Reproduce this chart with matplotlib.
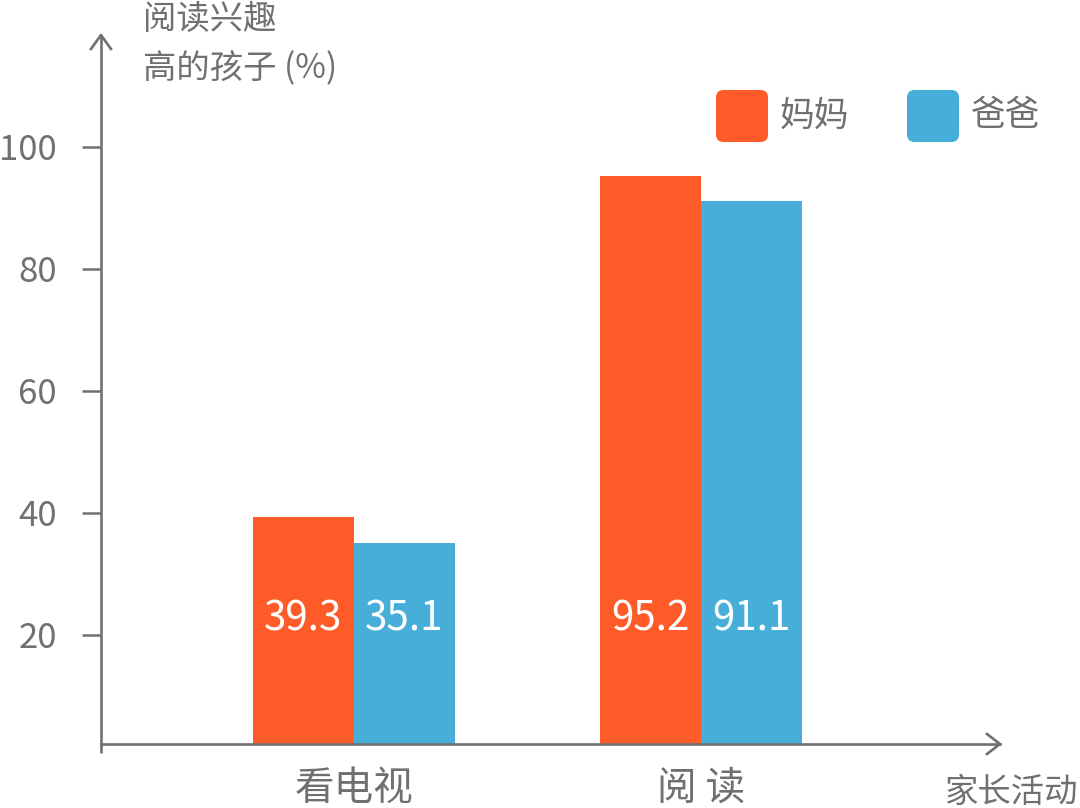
import matplotlib
matplotlib.use("Agg")
import matplotlib.pyplot as plt
from matplotlib.patches import FancyBboxPatch
import numpy as np

plt.rcParams['font.family'] = ['Noto Sans CJK SC', 'DejaVu Sans']

# data
categories = ['看电视', '阅 读']
mom_values = [39.3, 95.2]
dad_values = [35.1, 91.1]
series_names = ['妈妈', '爸爸']
yticks = [20, 40, 60, 80, 100]

ORANGE = '#FF5B29'
BLUE = '#46AED9'
GRAY = '#707070'

W, H = 1080, 808
fig = plt.figure(figsize=(W / 100, H / 100), dpi=100)

# axes box in pixels: left 101, right 1000, top 35, bottom 744
ax = fig.add_axes([101 / W, 1 - 744 / H, (1000 - 101) / W, (744 - 35) / H])

x = np.arange(len(categories))
bw = 0.291
ax.bar(x - bw / 2, mom_values, bw, color=ORANGE, label=series_names[0])
ax.bar(x + bw / 2, dad_values, bw, color=BLUE, label=series_names[1])

# value labels inside the bars
label_y = 22.7
for i in range(len(categories)):
    ax.text(x[i] - bw / 2, label_y, f'{mom_values[i]}', color='white',
            ha='center', va='center', fontsize=29, fontweight='medium')
    ax.text(x[i] + bw / 2, label_y, f'{dad_values[i]}', color='white',
            ha='center', va='center', fontsize=29, fontweight='medium')

ax.set_xlim(-0.729, 1.862)
ax.set_ylim(2.13, 118.36)

for s in ax.spines.values():
    s.set_visible(False)

ax.set_yticks(yticks)
ax.set_yticklabels([str(v) for v in yticks])
ax.tick_params(axis='y', length=13.7, width=1.8, color=GRAY, pad=18,
               labelsize=25, labelcolor=GRAY)
ax.set_xticks(x)
ax.set_xticklabels(categories)
ax.tick_params(axis='x', length=0, pad=18, labelsize=28.5, labelcolor=GRAY)

# axis lines with open arrow heads (pixel offsets converted to axes fraction)
aw, ah = 1000 - 101, 744 - 35
lw = 1.9
ax.plot([0, 0], [-9 / ah, 1], color=GRAY, lw=lw, transform=ax.transAxes, clip_on=False,
        solid_capstyle='butt')
ax.plot([-10 / aw, 0, 10 / aw], [1 - 14 / ah, 1, 1 - 14 / ah], color=GRAY, lw=lw,
        transform=ax.transAxes, clip_on=False)
ax.plot([0, 1], [0, 0], color=GRAY, lw=lw, transform=ax.transAxes, clip_on=False)
ax.plot([1 - 13 / aw, 1, 1 - 13 / aw], [10 / ah, 0, -10 / ah], color=GRAY, lw=lw,
        transform=ax.transAxes, clip_on=False)

# axis titles
fig.text(143 / W, 1 - 19 / H, '阅读兴趣', color=GRAY, fontsize=24, ha='left', va='center')
fig.text(143 / W, 1 - 69 / H, '高的孩子 (%)', color=GRAY, fontsize=24, ha='left', va='center')
fig.text(1078 / W, 1 - 792 / H, '家长活动', color=GRAY, fontsize=24, ha='right', va='center')

# legend
legend_items = [(716, ORANGE, series_names[0]), (907, BLUE, series_names[1])]
for px, col, name in legend_items:
    box = FancyBboxPatch((px / W, 1 - 142 / H), 52 / W, 52 / H,
                         boxstyle='round,pad=0,rounding_size=0.007',
                         transform=fig.transFigure, color=col, ec='none',
                         mutation_aspect=W / H)
    fig.patches.append(box)
    fig.text((px + 64) / W, 1 - 116 / H, name, color=GRAY, fontsize=25,
             ha='left', va='center')

fig.savefig('out.png', dpi=100)
